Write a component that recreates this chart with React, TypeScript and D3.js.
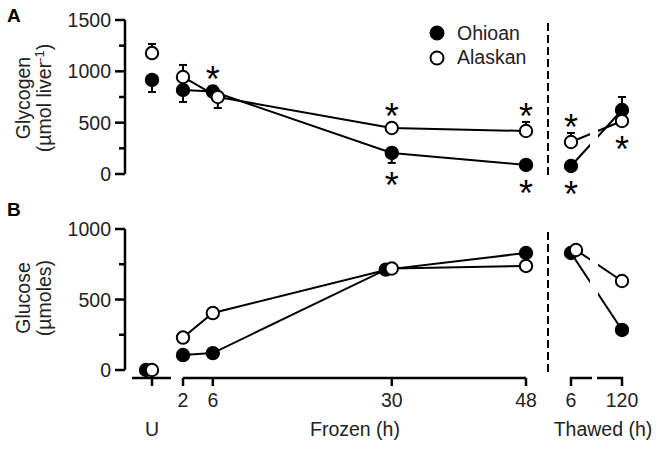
import React from "react";
import * as d3 from "d3";

// ---------- data ----------
const timeGroup = ["U", "Frozen", "Frozen", "Frozen", "Frozen", "Thawed", "Thawed"];
const timeLabel = ["U", "2", "6", "30", "48", "6", "120"];
const frozenHours = [2, 6, 30, 48];
const thawedHours = ["6", "120"];

const glycogenOhioan = [916, 818, 803, 205, 88, 78, 623];
const glycogenOhioanErr = [-117, -117, 54, -97, 0, 0, 127];
const glycogenAlaskan = [1178, 945, 750, 448, 419, 312, 516];
const glycogenAlaskanErr = [88, 117, -107, 0, 88, 88, 0];

const glucoseOhioan = [0, 106, 120, 712, 830, 830, 284];
const glucoseAlaskan = [0, 230, 404, 720, 738, 851, 631];
const noErr = [0, 0, 0, 0, 0, 0, 0];

const glycogenTicks = [0, 500, 1000, 1500];
const glycogenMinor = [250, 750, 1250];
const glucoseTicks = [0, 500, 1000];
const glucoseMinor = [250, 750];

// significance asterisks in the glycogen panel
const sigIndex = [2, 3, 4, 5, 3, 4, 5, 6];
const sigSeries = ["Ohioan", "Alaskan", "Alaskan", "Alaskan", "Ohioan", "Ohioan", "Ohioan", "Alaskan"];
const sigSide = ["above", "above", "above", "above", "below", "below", "below", "below"];

const seriesNames = ["Ohioan", "Alaskan"];

// ---------- layout / style ----------
const W = 662;
const H = 449;
const FONT = "'Liberation Sans', Arial, Helvetica, sans-serif";
const FS = 19.5;
const AX_X = 125;
const R = 6.2;
const STAR_FS = 36;
const frozenIdx = [1, 2, 3, 4];
const thawedIdx = [5, 6];
// small horizontal nudges so overlapping symbols stay visible
const nudge: Record<string, number> = {
  "A-Alaskan-2": 5,
  "B-Ohioan-0": -6,
  "B-Ohioan-3": -6,
  "B-Alaskan-5": 5,
};

const uScale = d3.scalePoint<string>().domain(["U"]).range([132, 172]).padding(0.5);
const frozenScale = d3.scaleLinear().domain([2, 48]).range([183, 526]);
const thawedScale = d3.scalePoint<string>().domain(thawedHours).range([571, 622]);

function xOf(i: number): number {
  const g = timeGroup[i];
  if (g === "U") return uScale("U") as number;
  if (g === "Frozen") return frozenScale(+timeLabel[i]);
  return thawedScale(timeLabel[i]) as number;
}

const yA = d3.scaleLinear().domain([0, 1500]).range([174, 20]);
const yB = d3.scaleLinear().domain([0, 1000]).range([370, 229]);

type PanelProps = {
  id: string;
  y: d3.ScaleLinear<number, number>;
  ohio: number[];
  ohioErr: number[];
  alas: number[];
  alasErr: number[];
  ticks: number[];
  minor: number[];
  title: string[];
  titleY: number;
  sig?: boolean;
};

function Panel({ id, y, ohio, ohioErr, alas, alasErr, ticks, minor, title, titleY, sig }: PanelProps) {
  const vals: Record<string, number[]> = { Ohioan: ohio, Alaskan: alas };
  const errs: Record<string, number[]> = { Ohioan: ohioErr, Alaskan: alasErr };
  const px = (s: string, i: number) => xOf(i) + (nudge[`${id}-${s}-${i}`] || 0);
  const line = d3.line<number>();
  const [y0, y1] = y.range();
  return (
    <g>
      {/* y axis */}
      <line x1={AX_X} x2={AX_X} y1={y0} y2={y1} stroke="#000" strokeWidth={2.5} />
      {ticks.map((t) => (
        <g key={"t" + t}>
          <line x1={AX_X - 10} x2={AX_X} y1={y(t)} y2={y(t)} stroke="#000" strokeWidth={2.5} />
          <text x={AX_X - 14} y={y(t)} dy="0.36em" textAnchor="end" fontSize={FS} fill="#222">
            {t}
          </text>
        </g>
      ))}
      {minor.map((t) => (
        <line key={"m" + t} x1={AX_X - 6} x2={AX_X} y1={y(t)} y2={y(t)} stroke="#000" strokeWidth={2.5} />
      ))}
      {/* y title */}
      <text transform={`translate(30,${titleY}) rotate(-90)`} textAnchor="middle" fontSize={FS} fill="#222">
        {title[0]}
      </text>
      <text transform={`translate(51,${titleY}) rotate(-90)`} textAnchor="middle" fontSize={FS} fill="#222">
        {title[1]}
        {title[2] ? (
          <tspan fontSize={13} dy="-7">
            {title[2]}
          </tspan>
        ) : null}
        {title[2] ? <tspan dy="7">)</tspan> : null}
      </text>
      {/* dashed separator */}
      <line
        x1={548}
        x2={548}
        y1={y1 + 3}
        y2={y0 + 2}
        stroke="#000"
        strokeWidth={2}
        strokeDasharray="8,4"
      />
      {/* lines */}
      {seriesNames.map((s) => (
        <g key={"l" + s} fill="none" stroke="#000" strokeWidth={2}>
          <path d={line(frozenIdx.map((i) => [px(s, i), y(vals[s][i])]) as any) || ""} />
          <path
            clipPath="url(#gapClip)"
            d={line(thawedIdx.map((i) => [px(s, i), y(vals[s][i])]) as any) || ""}
          />
        </g>
      ))}
      {/* error bars + points */}
      {seriesNames.map((s) => (
        <g key={"p" + s}>
          {vals[s].map((v, i) => {
            const e = errs[s][i];
            const cx = px(s, i);
            const cy = y(v);
            const ey = y(v + e);
            return (
              <g key={i}>
                {e !== 0 ? (
                  <g stroke="#000" strokeWidth={2}>
                    <line x1={cx} x2={cx} y1={cy} y2={ey} />
                    <line x1={cx - 4} x2={cx + 4} y1={ey} y2={ey} />
                  </g>
                ) : null}
                <circle
                  cx={cx}
                  cy={cy}
                  r={R}
                  fill={s === "Ohioan" ? "#000" : "#fff"}
                  stroke="#000"
                  strokeWidth={2}
                />
              </g>
            );
          })}
        </g>
      ))}
      {sig
        ? sigIndex.map((i, k) => {
            const s = sigSeries[k];
            const v = vals[s][i];
            const e = errs[s][i];
            const cx = xOf(i);
            const cy = y(v);
            let cyStar: number;
            if (sigSide[k] === "above") {
              const top = Math.min(cy - R, e > 0 ? y(v + e) : cy);
              cyStar = top - 14;
            } else {
              const bot = Math.max(cy + R, e < 0 ? y(v + e) : cy);
              cyStar = bot + 14;
            }
            return (
              <text
                key={"s" + k}
                x={cx}
                y={cyStar + 0.58 * STAR_FS}
                textAnchor="middle"
                fontSize={STAR_FS}
                fill="#000"
              >
                *
              </text>
            );
          })
        : null}
    </g>
  );
}

export default function App() {
  const axY = 378;
  return (
    <svg
      width={W}
      height={H}
      style={{ position: "absolute", left: 0, top: 0, background: "#fff" }}
      fontFamily={FONT}
    >
      <defs>
        <clipPath id="gapClip">
          <rect x={0} y={0} width={590} height={H} />
          <rect x={598} y={0} width={W - 598} height={H} />
        </clipPath>
      </defs>
      <rect width={W} height={H} fill="#fff" />
      <text x={7} y={22} fontSize={19} fontWeight="bold" fill="#000">
        A
      </text>
      <text x={7} y={216} fontSize={19} fontWeight="bold" fill="#000">
        B
      </text>

      <Panel
        id="A"
        y={yA}
        ohio={glycogenOhioan}
        ohioErr={glycogenOhioanErr}
        alas={glycogenAlaskan}
        alasErr={glycogenAlaskanErr}
        ticks={glycogenTicks}
        minor={glycogenMinor}
        title={["Glycogen", "(µmol liver", "-1"]}
        titleY={98}
        sig
      />
      <Panel
        id="B"
        y={yB}
        ohio={glucoseOhioan}
        ohioErr={noErr}
        alas={glucoseAlaskan}
        alasErr={noErr}
        ticks={glucoseTicks}
        minor={glucoseMinor}
        title={["Glucose", "(µmoles)"]}
        titleY={298}
      />

      {/* legend */}
      <circle cx={437} cy={33} r={6.5} fill="#000" stroke="#000" strokeWidth={2} />
      <text x={457} y={40} fontSize={FS} fill="#222">
        Ohioan
      </text>
      <circle cx={437} cy={58} r={6.5} fill="#fff" stroke="#000" strokeWidth={2} />
      <text x={457} y={64} fontSize={FS} fill="#222">
        Alaskan
      </text>

      {/* broken x axis */}
      <g stroke="#000" strokeWidth={2.5} fill="none">
        <line x1={132} x2={171} y1={axY} y2={axY} />
        <line x1={uScale("U") as number} x2={uScale("U") as number} y1={axY} y2={axY + 8} />
        <line x1={frozenScale(2)} x2={frozenScale(48)} y1={axY} y2={axY} />
        {frozenHours.map((h) => (
          <line key={"f" + h} x1={frozenScale(h)} x2={frozenScale(h)} y1={axY} y2={axY + 8} />
        ))}
        <polyline
          points={`${thawedScale("6")},${axY + 8} ${thawedScale("6")},${axY} 592,${axY}`}
        />
        <polyline
          points={`597,${axY} ${thawedScale("120")},${axY} ${thawedScale("120")},${axY + 8}`}
        />
      </g>
      <g fontSize={FS} fill="#222" textAnchor="middle">
        {frozenHours.map((h) => (
          <text key={"fl" + h} x={frozenScale(h)} y={407}>
            {h}
          </text>
        ))}
        {thawedHours.map((h) => (
          <text key={"tl" + h} x={thawedScale(h) as number} y={407}>
            {h}
          </text>
        ))}
        <text x={uScale("U") as number} y={436}>
          U
        </text>
        <text x={355} y={436}>
          Frozen (h)
        </text>
        <text x={603} y={436}>
          Thawed (h)
        </text>
      </g>
    </svg>
  );
}
